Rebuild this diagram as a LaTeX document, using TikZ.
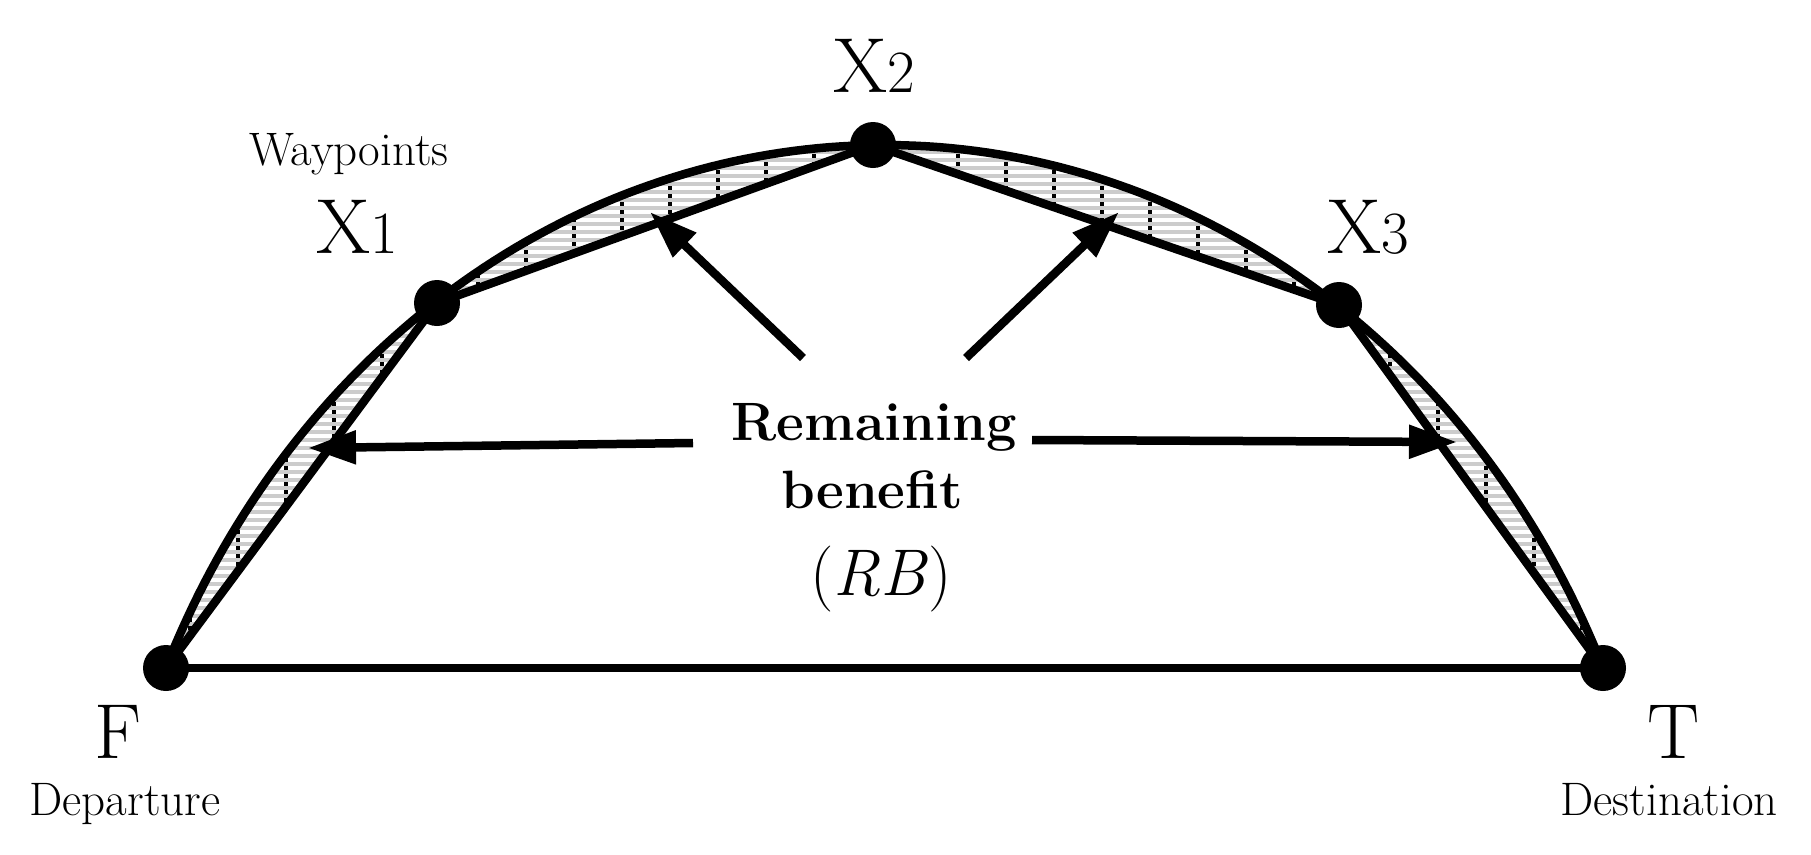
\documentclass[tikz,border=0pt]{standalone}
\usepackage{fontspec}
\usetikzlibrary{arrows.meta}
\begin{document}
\begin{tikzpicture}[x=1pt,y=-1pt,
  thickline/.style={line width=8.5pt},
  dot/.style={circle,fill=black,inner sep=0pt,minimum size=46pt},
  rbarrow/.style={line width=8.5pt,-{Triangle[length=48pt,width=32pt]}},
  lbl/.style={inner sep=0pt,anchor=base},
  hatchgrey/.style={black!20,line width=4pt},
  hatchdots/.style={black,line width=4pt,dash pattern=on 4pt off 4pt}]
\useasboundingbox (0,0) rectangle (1811,854);
\fill[white] (0,0) rectangle (1811,854);
% positions
\coordinate (pF) at (166,668);
\coordinate (pX1) at (437,303);
\coordinate (pX2) at (873,145);
\coordinate (pX3) at (1339,305);
\coordinate (pT) at (1603,668);
% hatched region
\begin{scope}
\clip plot[domain=156.25:23.75,samples=150] ({884.5+785*cos(\x)},{1020-875*sin(\x)})
  -- (pX3) -- (pX2) -- (pX1) -- cycle;
\foreach \k in {15,...,84} \draw[hatchgrey] (100,8*\k) -- (1700,8*\k);
\foreach \k in {0,...,29} \draw[hatchdots] (190+48*\k,2) -- (190+48*\k,700);
\end{scope}
% arc
\draw[thickline] plot[domain=156.25:23.75,samples=150] ({884.5+785*cos(\x)},{1020-875*sin(\x)});
% chords
\draw[thickline,line join=round] (pF) -- (pX1) -- (pX2) -- (pX3) -- (pT);
\draw[thickline] (pF) -- (pT);
% dots
\node[dot] (F) at (pF) {};
\node[dot] (X1) at (pX1) {};
\node[dot] (X2) at (pX2) {};
\node[dot] (X3) at (pX3) {};
\node[dot] (T) at (pT) {};
% labels
\node[lbl] (wp) at (349,165) {\fontsize{47}{47}\selectfont Waypoints};
\node[lbl] (x1l) at (357,253) {\fontsize{78}{78}\selectfont X\fontsize{60}{60}\selectfont 1};
\node[lbl] (x2l) at (874,92) {\fontsize{78}{78}\selectfont X\fontsize{60}{60}\selectfont 2};
\node[lbl] (x3l) at (1368,253) {\fontsize{78}{78}\selectfont X\fontsize{60}{60}\selectfont 3};
\node[lbl] (fl) at (118,758) {\fontsize{78}{78}\selectfont F};
\node[lbl] (dep) at (125,815) {\fontsize{47}{47}\selectfont Departure};
\node[lbl] (tl) at (1674,758) {\fontsize{78}{78}\selectfont T};
\node[lbl] (dst) at (1669,815) {\fontsize{47}{47}\selectfont Destination};
\node[lbl] (rem) at (874,440) {\fontsize{54}{54}\selectfont\bfseries Remaining};
\node[lbl] (ben) at (872,508) {\fontsize{54}{54}\selectfont\bfseries benefit};
\node[lbl] (rb) at (881,595) {\fontsize{66}{66}\selectfont (\textit{RB})};
% arrows
\coordinate (aL0) at (693,443);
\coordinate (aL1) at (308,448);
\coordinate (aR0) at (1032,440);
\coordinate (aR1) at (1457,442);
\coordinate (dL0) at (803,358);
\coordinate (dL1) at (650,212);
\coordinate (dR0) at (966,358);
\coordinate (dR1) at (1119,212);
\draw[rbarrow] (aL0) -- (aL1);
\draw[rbarrow] (aR0) -- (aR1);
\draw[rbarrow] (dL0) -- (dL1);
\draw[rbarrow] (dR0) -- (dR1);
\end{tikzpicture}
\end{document}
